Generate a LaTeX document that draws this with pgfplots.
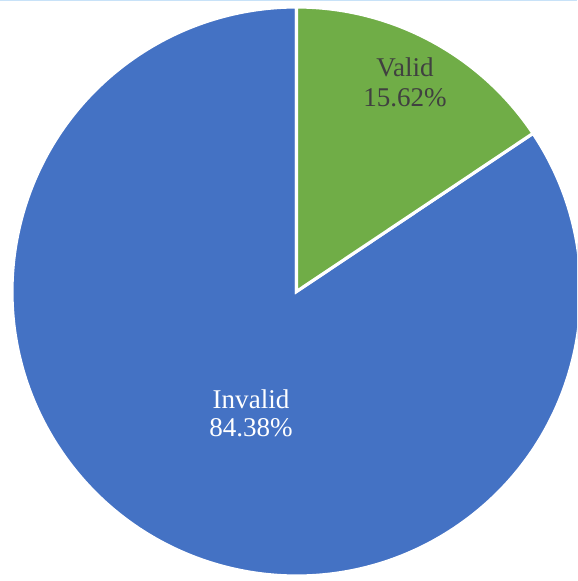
\documentclass[border=0pt]{standalone}
\usepackage{pgfplots}
\usepackage{pgfplotstable}
\pgfplotsset{compat=1.18}
\usepackage{fontspec}
\setmainfont{Liberation Serif}
\definecolor{pieblue}{HTML}{4472C4}
\definecolor{piegreen}{HTML}{70AD47}
\definecolor{labgray}{HTML}{404040}
\definecolor{topline}{HTML}{C8E2F8}
\pgfplotstableread{
label value
Valid 15.62
Invalid 84.38
}\piedata
\begin{document}
\begin{tikzpicture}
\pgfplotstablegetelem{0}{value}\of\piedata
\let\vValid\pgfplotsretval
\pgfplotstablegetelem{1}{value}\of\piedata
\let\vInvalid\pgfplotsretval
\pgfmathsetmacro\aMid{90-3.6*\vValid}
\pgfmathsetmacro\aEnd{\aMid-3.6*\vInvalid}
\begin{axis}[
  scale only axis,
  width=5.77cm, height=5.81cm,
  xmin=0, xmax=577, ymin=0, ymax=581,
  hide axis,
  clip=true,
]
\fill[topline] (axis cs:0,579.8) rectangle (axis cs:577,581);
% Invalid slice
\fill[pieblue, draw=white, line width=0.9pt] (axis cs:296.5,289.5) -- ++(\aMid:2.845cm)
  arc[start angle=\aMid, end angle=\aEnd, radius=2.845cm] -- cycle;
% Valid slice
\fill[piegreen, draw=white, line width=0.9pt] (axis cs:296.5,289.5) -- ++(90:2.845cm)
  arc[start angle=90, end angle=\aMid, radius=2.845cm] -- cycle;
\node[anchor=base, inner sep=0pt, text=labgray, font=\fontsize{7.7}{9}\selectfont] at (axis cs:405,504) {Valid};
\node[anchor=base, inner sep=0pt, text=labgray, font=\fontsize{7.7}{9}\selectfont] at (axis cs:405,474) {\vValid\%};
\node[anchor=base, inner sep=0pt, text=white, font=\fontsize{7.7}{9}\selectfont] at (axis cs:251,172) {Invalid};
\node[anchor=base, inner sep=0pt, text=white, font=\fontsize{7.7}{9}\selectfont] at (axis cs:251,144) {\vInvalid\%};
\end{axis}
\end{tikzpicture}
\end{document}
